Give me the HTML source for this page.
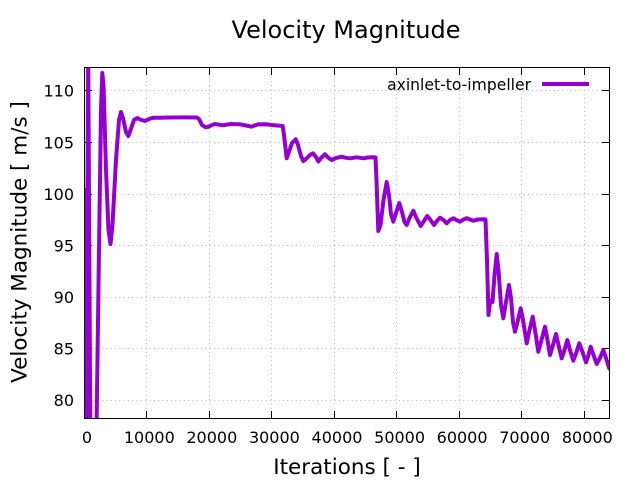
<!DOCTYPE html>
<html>
<head>
<meta charset="utf-8">
<style>
  html, body { margin: 0; padding: 0; background: #ffffff; }
  svg { display: block; }
  text { font-family: "DejaVu Sans", "Liberation Sans", sans-serif; fill: #000; }
</style>
</head>
<body>
<svg width="640" height="480" viewBox="0 0 640 480" xmlns="http://www.w3.org/2000/svg">
  <rect x="0" y="0" width="640" height="480" fill="#ffffff"/>
  <defs>
    <clipPath id="plotclip">
      <rect x="84" y="67.5" width="525.5" height="351"/>
    </clipPath>
  </defs>

  <!-- grid -->
  <g stroke="#b4b4b4" stroke-width="1" stroke-dasharray="1,3.3" fill="none">
    <line x1="146.5" y1="68" x2="146.5" y2="418"/>
    <line x1="209.5" y1="68" x2="209.5" y2="418"/>
    <line x1="271.5" y1="68" x2="271.5" y2="418"/>
    <line x1="334.5" y1="68" x2="334.5" y2="418"/>
    <line x1="396.5" y1="68" x2="396.5" y2="418"/>
    <line x1="459.5" y1="68" x2="459.5" y2="418"/>
    <line x1="521.5" y1="68" x2="521.5" y2="418"/>
    <line x1="584.5" y1="68" x2="584.5" y2="418"/>
    <line x1="85" y1="400.5" x2="609" y2="400.5"/>
    <line x1="85" y1="348.5" x2="609" y2="348.5"/>
    <line x1="85" y1="297.5" x2="609" y2="297.5"/>
    <line x1="85" y1="245.5" x2="609" y2="245.5"/>
    <line x1="85" y1="194.5" x2="609" y2="194.5"/>
    <line x1="85" y1="142.5" x2="609" y2="142.5"/>
    <line x1="85" y1="90.5" x2="609" y2="90.5"/>
  </g>

  <!-- ticks -->
  <g stroke="#000" stroke-width="1">
    <line x1="146.5" y1="418.5" x2="146.5" y2="411"/><line x1="146.5" y1="67.5" x2="146.5" y2="75"/>
    <line x1="209.5" y1="418.5" x2="209.5" y2="411"/><line x1="209.5" y1="67.5" x2="209.5" y2="75"/>
    <line x1="271.5" y1="418.5" x2="271.5" y2="411"/><line x1="271.5" y1="67.5" x2="271.5" y2="75"/>
    <line x1="334.5" y1="418.5" x2="334.5" y2="411"/><line x1="334.5" y1="67.5" x2="334.5" y2="75"/>
    <line x1="396.5" y1="418.5" x2="396.5" y2="411"/><line x1="396.5" y1="67.5" x2="396.5" y2="75"/>
    <line x1="459.5" y1="418.5" x2="459.5" y2="411"/><line x1="459.5" y1="67.5" x2="459.5" y2="75"/>
    <line x1="521.5" y1="418.5" x2="521.5" y2="411"/><line x1="521.5" y1="67.5" x2="521.5" y2="75"/>
    <line x1="584.5" y1="418.5" x2="584.5" y2="411"/><line x1="584.5" y1="67.5" x2="584.5" y2="75"/>
    <line x1="84.5" y1="400.5" x2="92" y2="400.5"/><line x1="609.5" y1="400.5" x2="602" y2="400.5"/>
    <line x1="84.5" y1="348.5" x2="92" y2="348.5"/><line x1="609.5" y1="348.5" x2="602" y2="348.5"/>
    <line x1="84.5" y1="297.5" x2="92" y2="297.5"/><line x1="609.5" y1="297.5" x2="602" y2="297.5"/>
    <line x1="84.5" y1="245.5" x2="92" y2="245.5"/><line x1="609.5" y1="245.5" x2="602" y2="245.5"/>
    <line x1="84.5" y1="194.5" x2="92" y2="194.5"/><line x1="609.5" y1="194.5" x2="602" y2="194.5"/>
    <line x1="84.5" y1="142.5" x2="92" y2="142.5"/><line x1="609.5" y1="142.5" x2="602" y2="142.5"/>
    <line x1="84.5" y1="90.5" x2="92" y2="90.5"/><line x1="609.5" y1="90.5" x2="602" y2="90.5"/>
  </g>

  <!-- data series -->
  <g clip-path="url(#plotclip)">
    <polyline fill="none" stroke="#9400d3" stroke-width="4" stroke-linejoin="round" stroke-linecap="round"
      points="85.5,190 86.3,430 88.2,50 90.3,430 96.5,430 99,250 101,110 102.3,73 103.5,85 106,170 108.5,230 110.5,244 112.5,225 116,160 119,120 121,112 123,118 126,132 128.3,136 130.5,130 134,120 137.3,118 140,119.5 145,121 149,119 153.3,117.7 160,117.8 170,117.5 185,117.4 196.7,117.5 199,119 202,125 205.7,127.3 209,126.5 212,125 215,124 219,124.7 223.3,125.3 227,124.5 231.7,124 236,124.2 240,124.3 246,125.5 251.7,126.7 255,125.3 258.3,124.3 262,124.4 266.7,124.3 272,125 282.7,126 284,135 286.7,158.3 289,152 292,143 295.7,139.3 298,145 301,156 303.3,161 306,159 310,155 313,153.3 316,157 318.3,161.5 321,158 325,154.3 328,157.5 331.7,160 336,158 341.7,156.7 346,157.8 350,158.3 356.7,157.3 363.3,158.3 368,157.5 373.3,157.3 375.5,157.5 376.5,180 378.3,231 380.5,225 383.5,200 386.7,182 389,195 391,214 393.3,221.7 396,213 399.3,203 402,212 404.5,222 406.7,225 409.5,218 413.3,210.7 416.5,218 420.7,226 424,221 427.3,216 430.5,220 434,225 437,221 440,217.7 443.5,220 446.7,223.3 450,220 453.3,218.3 456.5,220 460,221.7 463.5,219.5 466.7,218.3 470,219.5 473.3,220.7 478,219.5 483.3,219.3 485.5,219.5 487,260 488.5,315 490,302 491.5,300 492.5,302 494.5,275 496.7,254 498.5,270 501,305 503.3,318.3 505.5,305 509,285 511,298 513,322 515,331.7 517.5,322 520.7,308.3 523,320 526.7,343.3 529.5,330 532.7,316.7 535,330 538.3,351.7 541.5,340 545,326.7 547.5,340 550,355 553,345 556,334 558.5,345 561.7,358.3 564.5,350 567.3,340 570,350 573.3,360.7 576.5,352 579.3,343.3 582.5,352 586,362.3 588.5,355 590.7,346.7 593.5,355 596.7,364 600,358 603.3,350 606,358 609.3,368.5 612,370"/>
  </g>

  <!-- border -->
  <rect x="84.5" y="67.5" width="525" height="351" fill="none" stroke="#000" stroke-width="1"/>

  <!-- legend -->
  <text x="531" y="90" font-size="15.6" text-anchor="end">axinlet-to-impeller</text>
  <line x1="542" y1="84" x2="589" y2="84" stroke="#9400d3" stroke-width="4"/>

  <!-- y tick labels -->
  <g font-size="16" text-anchor="end">
    <text x="74" y="406">80</text>
    <text x="74" y="354.5">85</text>
    <text x="74" y="303">90</text>
    <text x="74" y="251.5">95</text>
    <text x="74" y="200">100</text>
    <text x="74" y="148.5">105</text>
    <text x="74" y="96.5">110</text>
  </g>

  <!-- x tick labels -->
  <g font-size="16" text-anchor="middle">
    <text x="87" y="443">0</text>
    <text x="149.3" y="443">10000</text>
    <text x="211.8" y="443">20000</text>
    <text x="274.4" y="443">30000</text>
    <text x="337" y="443">40000</text>
    <text x="399.6" y="443">50000</text>
    <text x="462.1" y="443">60000</text>
    <text x="524.7" y="443">70000</text>
    <text x="587.3" y="443">80000</text>
  </g>

  <!-- title -->
  <text x="346" y="38" font-size="24" text-anchor="middle">Velocity Magnitude</text>

  <!-- axis labels -->
  <text x="347" y="474" font-size="21.5" text-anchor="middle">Iterations [ - ]</text>
  <text x="0" y="0" font-size="21.5" text-anchor="middle" transform="translate(26.5,242) rotate(-90)">Velocity Magnitude [ m/s ]</text>
</svg>
</body>
</html>
